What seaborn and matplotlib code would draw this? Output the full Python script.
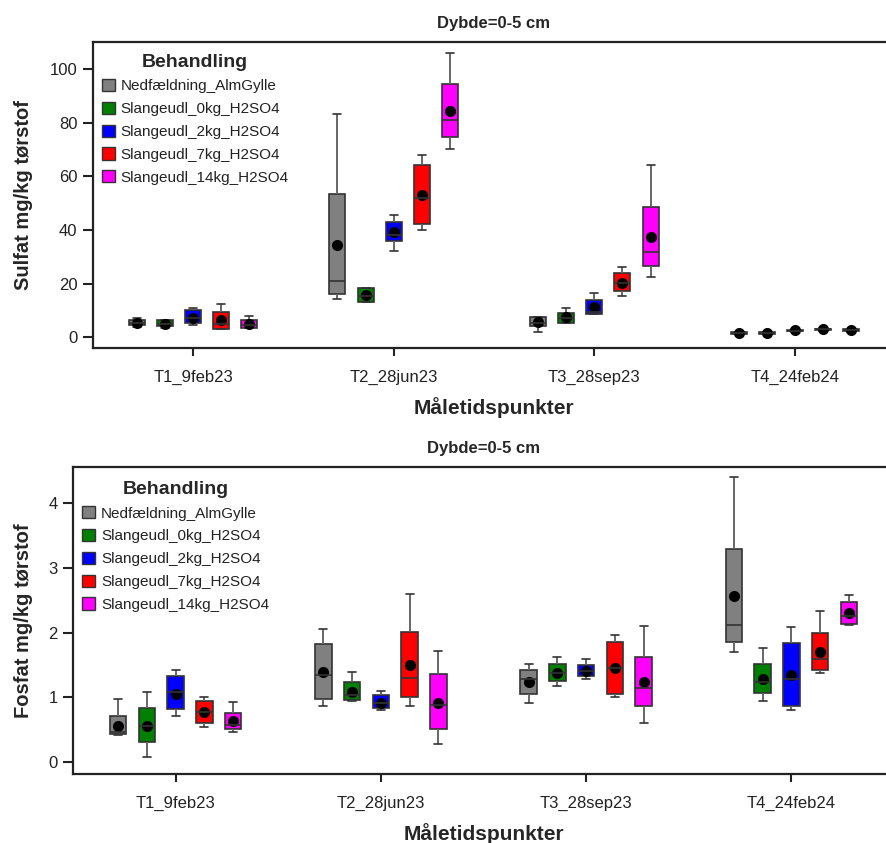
import numpy as np
import pandas as pd
import matplotlib
matplotlib.use("Agg")
import matplotlib.pyplot as plt
from matplotlib.patches import Patch
import seaborn as sns

# ---------------- data ----------------
times = ["T1_9feb23", "T2_28jun23", "T3_28sep23", "T4_24feb24"]
treatments = ["Nedfældning_AlmGylle", "Slangeudl_0kg_H2SO4", "Slangeudl_2kg_H2SO4",
              "Slangeudl_7kg_H2SO4", "Slangeudl_14kg_H2SO4"]
colors = ["#808080", "#007F00", "#0000FF", "#FF0000", "#FF00FF"]

# Sulfat: rows = time points, columns = treatments
sulfat_min = [[3.8, 3.5, 4.5, 3.0, 3.4],
              [14.4, 13.0, 32.1, 40.1, 70.1],
              [2.0, 5.4, 8.6, 15.4, 22.4],
              [1.2, 1.1, 2.0, 2.4, 2.1]]
sulfat_q1 = [[4.5, 4.1, 5.3, 3.2, 3.6],
             [16.2, 13.1, 35.8, 42.3, 74.7],
             [4.1, 5.5, 8.8, 17.1, 26.5],
             [1.4, 1.3, 2.2, 2.6, 2.3]]
sulfat_med = [[5.2, 4.8, 7.0, 5.0, 4.6],
              [20.8, 15.5, 38.0, 52.0, 81.0],
              [5.5, 7.0, 9.4, 20.4, 31.7],
              [1.7, 1.5, 2.5, 2.9, 2.6]]
sulfat_q3 = [[6.5, 6.3, 10.0, 9.4, 6.3],
             [53.4, 18.3, 42.9, 64.2, 94.3],
             [7.5, 9.2, 13.8, 23.9, 48.4],
             [1.9, 1.8, 2.8, 3.2, 2.9]]
sulfat_max = [[7.0, 6.6, 11.0, 12.3, 7.8],
              [83.2, 18.5, 45.4, 67.9, 106.0],
              [7.6, 10.9, 16.6, 26.1, 64.3],
              [2.1, 2.0, 3.0, 3.4, 3.1]]
sulfat_mean = [[5.4, 4.8, 7.3, 6.3, 4.8],
               [34.5, 15.6, 39.2, 53.0, 84.4],
               [5.7, 7.5, 11.3, 20.4, 37.3],
               [1.7, 1.6, 2.6, 3.0, 2.6]]

# Fosfat
fosfat_min = [[0.42, 0.08, 0.72, 0.54, 0.46],
              [0.86, 0.95, 0.80, 0.86, 0.28],
              [0.92, 1.18, 1.28, 1.00, 0.60],
              [1.70, 0.95, 0.80, 1.37, 2.12]]
fosfat_q1 = [[0.44, 0.32, 0.82, 0.61, 0.51],
             [0.98, 0.96, 0.84, 1.01, 0.52],
             [1.06, 1.25, 1.33, 1.06, 0.86],
             [1.86, 1.07, 0.87, 1.43, 2.13]]
fosfat_med = [[0.47, 0.56, 1.08, 0.77, 0.57],
              [1.35, 1.04, 0.92, 1.30, 0.89],
              [1.28, 1.38, 1.41, 1.45, 1.14],
              [2.12, 1.23, 1.28, 1.59, 2.26]]
fosfat_q3 = [[0.72, 0.83, 1.33, 0.95, 0.76],
             [1.83, 1.24, 1.04, 2.01, 1.36],
             [1.43, 1.51, 1.50, 1.86, 1.63],
             [3.29, 1.51, 1.84, 2.00, 2.47]]
fosfat_max = [[0.98, 1.08, 1.43, 1.01, 0.93],
              [2.06, 1.39, 1.10, 2.59, 1.71],
              [1.51, 1.63, 1.59, 1.96, 2.10],
              [4.39, 1.76, 2.08, 2.33, 2.58]]
fosfat_mean = [[0.56, 0.56, 1.06, 0.77, 0.63],
               [1.39, 1.09, 0.92, 1.50, 0.92],
               [1.24, 1.37, 1.41, 1.45, 1.23],
               [2.57, 1.28, 1.35, 1.70, 2.30]]

sulfat_yticks = [0, 20, 40, 60, 80, 100]
fosfat_yticks = [0, 1, 2, 3, 4]

# ---------------- style ----------------
sns.set_theme(style="white")
plt.rcParams["font.family"] = ["Liberation Sans", "DejaVu Sans"]

DPI = 100
W, H = 886, 843
fig = plt.figure(figsize=(W / DPI, H / DPI), dpi=DPI)


def frame(df_stats):
    mn, q1, md, q3, mx = df_stats
    rows = []
    for i, t in enumerate(times):
        for j, tr in enumerate(treatments):
            for v in (mn[i][j], q1[i][j], md[i][j], q3[i][j], mx[i][j]):
                rows.append((t, tr, v))
    return pd.DataFrame(rows, columns=["time", "treatment", "value"])


def mean_frame(means):
    rows = []
    for i, t in enumerate(times):
        for j, tr in enumerate(treatments):
            rows.append((t, tr, means[i][j]))
    return pd.DataFrame(rows, columns=["time", "treatment", "value"])


def panel(ax, stats, means, ylabel, yticks, ylim, ylab_x, leg_anchor):
    df = frame(stats)
    mdf = mean_frame(means)
    sns.boxplot(data=df, x="time", y="value", hue="treatment",
                order=times, hue_order=treatments, palette=colors,
                saturation=1, width=0.7, gap=0.43, whis=(0, 100),
                linecolor="#333333", linewidth=1.2, fliersize=0,
                whiskerprops=dict(color="#666666", linewidth=1.4),
                legend=False, ax=ax)
    sns.pointplot(data=mdf, x="time", y="value", hue="treatment",
                  order=times, hue_order=treatments, palette=["black"] * 5,
                  dodge=0.56, markers="o", linestyles="none", errorbar=None,
                  legend=False, markersize=8, markeredgewidth=0, ax=ax)
    ax.set_xlim(-0.5, 3.5)
    ax.set_ylim(*ylim)
    ax.set_yticks(yticks)
    ax.set_xlabel("Måletidspunkter", fontsize=15, fontweight="bold")
    ax.set_ylabel(ylabel, fontsize=14.5, fontweight="bold")
    ax.yaxis.set_label_coords(ylab_x, 0.5)
    ax.xaxis.set_label_coords(0.5, -0.16)
    ax.set_title("Dybde=0-5 cm", fontsize=12, fontweight="bold", pad=10)
    ax.tick_params(axis="both", labelsize=12, colors="#222222",
                   length=7, width=1.5, direction="out",
                   bottom=True, left=True, top=False, right=False)
    ax.tick_params(axis="x", length=6, pad=10)
    ax.tick_params(axis="y", pad=4)
    for s in ax.spines.values():
        s.set_color("#222222")
        s.set_linewidth(1.6)
    handles = [Patch(facecolor=c, edgecolor="#333333", linewidth=1.0) for c in colors]
    leg = ax.legend(handles, treatments, title="Behandling", loc="upper left",
                    bbox_to_anchor=leg_anchor, frameon=False, fontsize=11,
                    handlelength=0.85, handleheight=0.85, handletextpad=0.4,
                    labelspacing=0.55, borderpad=0, borderaxespad=0)
    leg.get_title().set_fontweight("bold")
    leg.get_title().set_fontsize(14)
    for t in leg.get_texts():
        t.set_color("#222222")


# axes positions from pixel geometry
ax1 = fig.add_axes([92.7 / W, (H - 348) / H, (895.3 - 92.7) / W, (348 - 42) / H])
ax2 = fig.add_axes([73 / W, (H - 774) / H, (894 - 73) / W, (774 - 467) / H])

panel(ax1, (sulfat_min, sulfat_q1, sulfat_med, sulfat_q3, sulfat_max), sulfat_mean,
      "Sulfat mg/kg tørstof", sulfat_yticks, (-4, 110), -0.0744, (0.011, 0.962))
panel(ax2, (fosfat_min, fosfat_q1, fosfat_med, fosfat_q3, fosfat_max), fosfat_mean,
      "Fosfat mg/kg tørstof", fosfat_yticks, (-0.18, 4.55), -0.0487, (0.011, 0.955))

fig.savefig("out.png", dpi=DPI)
